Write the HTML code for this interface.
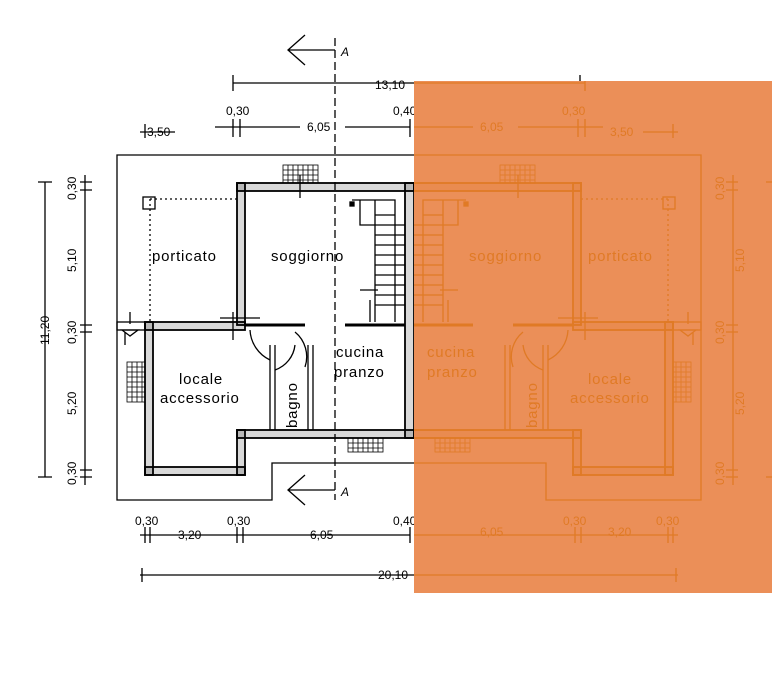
<!DOCTYPE html>
<html><head><meta charset="utf-8"><style>
html,body{margin:0;padding:0;background:#fff;}
svg{display:block;font-family:"Liberation Sans",sans-serif;}
</style></head><body>
<svg width="772" height="675" viewBox="0 0 772 675" xmlns="http://www.w3.org/2000/svg">
<defs>
<clipPath id="cr"><rect x="414" y="81" width="358" height="512"/></clipPath>
<g id="plan" fill="none" stroke="currentColor" stroke-width="1.3">
  <path d="M414 155 H117 V500 H272 V463 H414"/>
  <g fill="currentColor" fill-opacity="0.15" stroke-width="1.8">
    <rect x="237" y="183" width="177" height="8"/>
    <rect x="237" y="183" width="8" height="142"/>
    <rect x="405" y="183" width="9" height="255"/>
    <rect x="145" y="322" width="100" height="8"/>
    <rect x="145" y="322" width="8" height="153"/>
    <rect x="145" y="467" width="100" height="8"/>
    <rect x="237" y="430" width="8" height="45"/>
    <rect x="237" y="430" width="177" height="8"/>
  </g>
  <rect x="117" y="322" width="28" height="8"/>
  <path d="M122 330 l8 6 l8 -6z"/>
  <path d="M130 312 v12"/>
  <path d="M245 325 H305 M345 325 H405" stroke-width="3"/>
  <path d="M270 345 V430 M275 345 V430 M308 345 V430 M313 345 V430"/>
  <path d="M250 330 a35 35 0 0 0 20 30 M295 332 a32 32 0 0 1 10 35 M275 370 a30 30 0 0 0 20 -25"/>
  <path d="M150 199 H237 M150 199 V322" stroke-dasharray="2 3"/>
  <rect x="143" y="197" width="12" height="12"/>
  <path d="M352 200 H395 V322 M375 200 V322 M360 200 V225 H405 M375 235 H405 M375 245 H405 M375 255 H405 M375 265 H405 M375 275 H405 M375 285 H405 M375 295 H405 M375 305 H405 M375 215 H395 M375 225 H395"/>
  <path d="M360 290 H378 M370 300 V322"/>
  <rect x="350" y="202" width="4" height="4" fill="currentColor"/>
  <g stroke-width="0.8">
    <rect x="283" y="165" width="35" height="18"/>
    <path d="M288 165V183M293 165V183M298 165V183M303 165V183M308 165V183M313 165V183M283 170H318M283 175H318M283 180H318"/>
    <rect x="127" y="362" width="18" height="40"/>
    <path d="M127 367H145M127 372H145M127 377H145M127 382H145M127 387H145M127 392H145M127 397H145M132 362V402M137 362V402M142 362V402"/>
    <rect x="348" y="438" width="35" height="14"/>
    <path d="M353 438V452M358 438V452M363 438V452M368 438V452M373 438V452M378 438V452M348 443H383M348 448H383"/>
  </g>
  <path d="M300 175 V198 M125 332 V345 M233 312 V340 M220 318 H260"/>
  <path d="M233 83 H580 M233 75 V91 M580 75 V91"/>
  <path d="M140 132 H175 M215 127 H300 M345 127 H410 M145 124 V138 M233 119 V137 M240 119 V137 M410 119 V137 M415 119 V137"/>
  <path d="M45 182 V477 M38 182 H52 M38 477 H52"/>
  <path d="M85 175 V485 M80 182 H92 M80 190 H92 M80 325 H92 M80 332 H92 M80 470 H92 M80 477 H92"/>
  <path d="M140 535 H410 M145 527 V543 M150 527 V543 M237 527 V543 M243 527 V543 M410 527 V543 M415 527 V543"/>
  <path d="M140 575 H680 M142 568 V582 M680 568 V582"/>
</g>
</defs>

<g color="#000"><use href="#plan"/></g>
<g stroke="#000" fill="none" stroke-width="1.3">
  <path d="M335 38 V500" stroke-dasharray="8 4"/>
  <path d="M335 50 H288 M305 35 L288 50 L305 65"/>
  <path d="M335 490 H288 M305 475 L288 490 L305 505"/>
</g>
<g font-size="15" fill="#000" letter-spacing="0.8">
  <text x="152" y="261">porticato</text>
  <text x="271" y="261">soggiorno</text>
  <text x="336" y="357">cucina</text>
  <text x="334" y="377">pranzo</text>
  <text x="179" y="384">locale</text>
  <text x="160" y="403">accessorio</text>
  <text transform="translate(297,428) rotate(-90)">bagno</text>
</g>
<g font-size="12" fill="#000">
  <text x="341" y="56" font-style="italic">A</text>
  <text x="341" y="496" font-style="italic">A</text>
  <text x="375" y="89">13,10</text>
  <text x="147" y="136">3,50</text>
  <text x="226" y="115">0,30</text>
  <text x="307" y="131">6,05</text>
  <text x="393" y="115">0,40</text>
  <text x="135" y="525">0,30</text>
  <text x="227" y="525">0,30</text>
  <text x="393" y="525">0,40</text>
  <text x="178" y="539">3,20</text>
  <text x="310" y="539">6,05</text>
  <text x="378" y="579">20,10</text>
  <text transform="translate(49,345) rotate(-90)">11,20</text>
  <text transform="translate(76,200) rotate(-90)">0,30</text>
  <text transform="translate(76,272) rotate(-90)">5,10</text>
  <text transform="translate(76,344) rotate(-90)">0,30</text>
  <text transform="translate(76,415) rotate(-90)">5,20</text>
  <text transform="translate(76,485) rotate(-90)">0,30</text>
</g>

<rect x="414" y="81" width="358" height="512" fill="#EB8F58"/>
<g clip-path="url(#cr)" color="#E07A25">
  <use href="#plan" transform="translate(818,0) scale(-1,1)"/>
</g>
<g font-size="15" fill="#E07A25" letter-spacing="0.8">
  <text x="469" y="261">soggiorno</text>
  <text x="588" y="261">porticato</text>
  <text x="427" y="357">cucina</text>
  <text x="427" y="377">pranzo</text>
  <text x="588" y="384">locale</text>
  <text x="570" y="403">accessorio</text>
  <text transform="translate(537,428) rotate(-90)">bagno</text>
</g>
<g font-size="12" fill="#E07A25">
  <text x="480" y="131">6,05</text>
  <text x="562" y="115">0,30</text>
  <text x="610" y="136">3,50</text>
  <text x="480" y="536">6,05</text>
  <text x="563" y="525">0,30</text>
  <text x="608" y="536">3,20</text>
  <text x="656" y="525">0,30</text>
  <text transform="translate(724,200) rotate(-90)">0,30</text>
  <text transform="translate(744,272) rotate(-90)">5,10</text>
  <text transform="translate(724,344) rotate(-90)">0,30</text>
  <text transform="translate(744,415) rotate(-90)">5,20</text>
  <text transform="translate(724,485) rotate(-90)">0,30</text>
</g>
</svg>
</body></html>
